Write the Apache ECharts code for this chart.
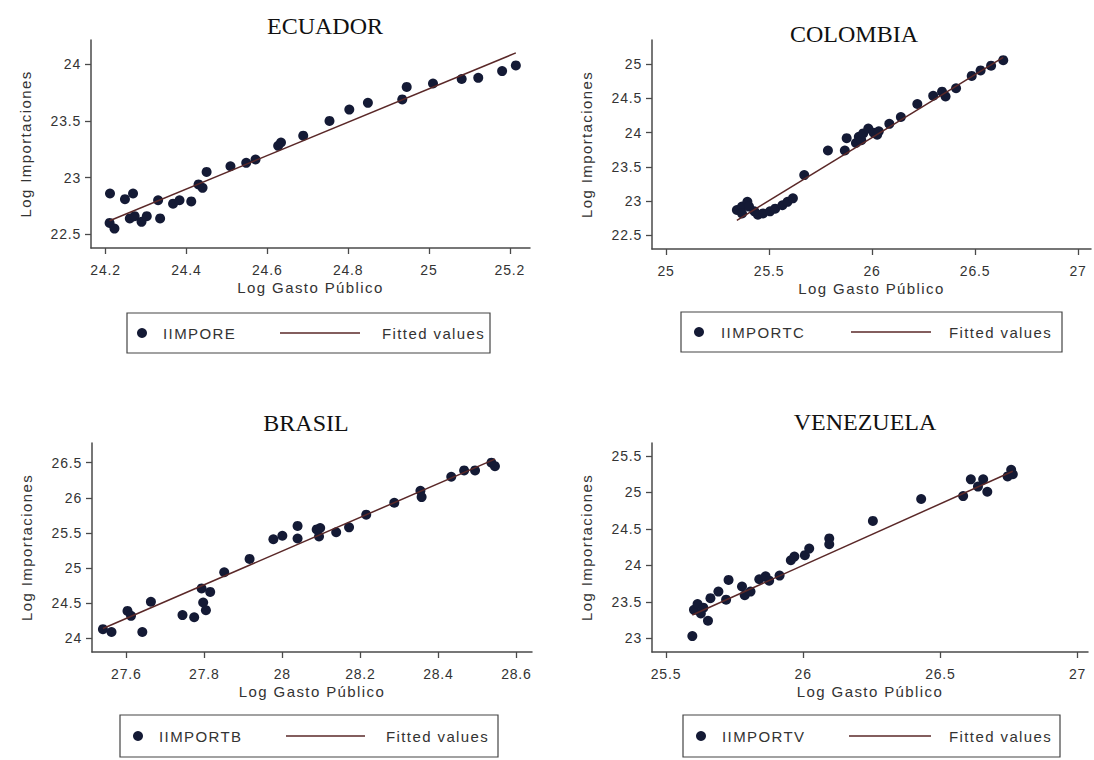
<!DOCTYPE html>
<html>
<head>
<meta charset="utf-8">
<script src="https://cdn.jsdelivr.net/npm/echarts@6/dist/echarts.min.js"></script>
<style>
html,body{margin:0;padding:0;background:#fff;}
#chart{width:1094px;height:760px;}
#chart text[style*="15px"]{letter-spacing:1.4px;}
#chart text[style*="14px"]{letter-spacing:0.8px;}
</style>
</head>
<body>
<div id="chart"></div>
<script>
// ---------- DATA ----------
const titles = ['ECUADOR', 'COLOMBIA', 'BRASIL', 'VENEZUELA'];
const scatterNames = ['IIMPORE', 'IIMPORTC', 'IIMPORTB', 'IIMPORTV'];
const fitName = 'Fitted values';
const xName = 'Log Gasto Público';
const yName = 'Log Importaciones';

// Ecuador
const ecuX = [24.211, 24.210, 24.222, 24.248, 24.268, 24.260, 24.272, 24.289, 24.302, 24.330, 24.335, 24.367, 24.383, 24.412, 24.430, 24.440, 24.450, 24.509, 24.548, 24.571, 24.627, 24.634, 24.689, 24.754, 24.803, 24.849, 24.934, 24.945, 25.010, 25.081, 25.122, 25.181, 25.215];
const ecuY = [22.86, 22.60, 22.55, 22.81, 22.86, 22.64, 22.66, 22.61, 22.66, 22.80, 22.64, 22.77, 22.80, 22.79, 22.94, 22.91, 23.05, 23.10, 23.13, 23.16, 23.28, 23.31, 23.37, 23.50, 23.60, 23.66, 23.69, 23.80, 23.83, 23.87, 23.88, 23.94, 23.99];
const ecuFitX = [24.21, 25.215];
const ecuFitY = [22.62, 24.10];
const ecuXTicks = [24.2, 24.4, 24.6, 24.8, 25, 25.2];
const ecuYTicks = [22.5, 23, 23.5, 24];

// Colombia
const colX = [25.344, 25.369, 25.369, 25.395, 25.403, 25.429, 25.446, 25.471, 25.505, 25.530, 25.565, 25.590, 25.616, 25.671, 25.786, 25.868, 25.877, 25.922, 25.936, 25.948, 25.957, 25.982, 26.008, 26.025, 26.033, 26.084, 26.140, 26.220, 26.297, 26.340, 26.357, 26.408, 26.484, 26.527, 26.578, 26.637];
const colY = [22.87, 22.92, 22.82, 22.99, 22.92, 22.85, 22.80, 22.82, 22.85, 22.89, 22.94, 22.99, 23.04, 23.38, 23.74, 23.74, 23.92, 23.85, 23.94, 23.89, 23.99, 24.06, 24.00, 23.97, 24.02, 24.13, 24.23, 24.42, 24.54, 24.60, 24.53, 24.65, 24.83, 24.91, 24.98, 25.06];
const colFitX = [25.344, 26.637];
const colFitY = [22.72, 25.10];
const colXTicks = [25, 25.5, 26, 26.5, 27];
const colYTicks = [22.5, 23, 23.5, 24, 24.5, 25];

// Brasil
const braX = [27.540, 27.562, 27.603, 27.612, 27.641, 27.663, 27.744, 27.774, 27.793, 27.797, 27.804, 27.815, 27.851, 27.916, 27.977, 28.000, 28.039, 28.039, 28.088, 28.094, 28.097, 28.138, 28.171, 28.215, 28.287, 28.354, 28.357, 28.433, 28.466, 28.494, 28.536, 28.545];
const braY = [24.13, 24.09, 24.39, 24.32, 24.09, 24.52, 24.33, 24.30, 24.71, 24.51, 24.40, 24.66, 24.94, 25.13, 25.41, 25.46, 25.60, 25.42, 25.55, 25.45, 25.57, 25.51, 25.58, 25.76, 25.93, 26.10, 26.01, 26.30, 26.39, 26.39, 26.50, 26.45];
const braFitX = [27.54, 28.545];
const braFitY = [24.14, 26.55];
const braXTicks = [27.6, 27.8, 28, 28.2, 28.4, 28.6];
const braYTicks = [24, 24.5, 25, 25.5, 26, 26.5];

// Venezuela
const venX = [25.596, 25.602, 25.615, 25.627, 25.636, 25.653, 25.662, 25.691, 25.719, 25.728, 25.777, 25.787, 25.808, 25.840, 25.863, 25.876, 25.914, 25.955, 25.968, 26.006, 26.022, 26.095, 26.095, 26.254, 26.430, 26.583, 26.611, 26.637, 26.656, 26.671, 26.745, 26.758, 26.764];
const venY = [23.03, 23.39, 23.47, 23.34, 23.42, 23.24, 23.55, 23.64, 23.53, 23.80, 23.71, 23.59, 23.64, 23.81, 23.85, 23.79, 23.86, 24.07, 24.12, 24.14, 24.23, 24.37, 24.29, 24.61, 24.91, 24.95, 25.18, 25.08, 25.18, 25.01, 25.22, 25.31, 25.25];
const venFitX = [25.596, 26.764];
const venFitY = [23.32, 25.29];
const venXTicks = [25.5, 26, 26.5, 27];
const venYTicks = [23, 23.5, 24, 24.5, 25, 25.5];

// ---------- LAYOUT / STYLE ----------
const panels = [
  {x: ecuX, y: ecuY, fx: ecuFitX, fy: ecuFitY, xt: ecuXTicks, yt: ecuYTicks,
   grid: {left: 91, top: 40, width: 439, height: 208}, xr: [24.164, 25.250], yr: [22.379, 24.214],
   title: {left: 325, top: 14},
   legA: {left: 127, top: 313, pad: [12, 237, 12, 10], tpad: 11},
   legB: {left: 280, top: 325, w: 80, tpad: 17}},
  {x: colX, y: colY, fx: colFitX, fy: colFitY, xt: colXTicks, yt: colYTicks,
   grid: {left: 652, top: 40, width: 439, height: 209}, xr: [24.932, 27.063], yr: [22.30, 25.355],
   title: {left: 854, top: 22},
   legA: {left: 681, top: 312, pad: [12, 251, 12, 13], tpad: 12},
   legB: {left: 851, top: 324, w: 80, tpad: 13}},
  {x: braX, y: braY, fx: braFitX, fy: braFitY, xt: braXTicks, yt: braYTicks,
   grid: {left: 92, top: 443, width: 440, height: 209}, xr: [27.512, 28.640], yr: [23.805, 26.78],
   title: {left: 306, top: 411},
   legA: {left: 120, top: 715, pad: [13, 249, 13, 13], tpad: 11},
   legB: {left: 286, top: 728, w: 79, tpad: 16}},
  {x: venX, y: venY, fx: venFitX, fy: venFitY, xt: venXTicks, yt: venYTicks,
   grid: {left: 652, top: 443, width: 436, height: 209}, xr: [25.449, 27.038], yr: [22.812, 25.678],
   title: {left: 865, top: 410},
   legA: {left: 683, top: 715, pad: [13, 248, 13, 13], tpad: 11},
   legB: {left: 849, top: 728, w: 82, tpad: 13}}
];

const SANS = '"Liberation Sans", Arial, sans-serif';
const SERIF = '"Liberation Serif", "Times New Roman", serif';
const axisColor = '#4a4a4a';
const dotColor = '#141a35';
const lineColor = '#5a2828';

const option = {
  backgroundColor: '#ffffff',
  animation: false,
  title: [], grid: [], xAxis: [], yAxis: [], series: [], legend: []
};

panels.forEach((p, i) => {
  option.title.push({
    text: titles[i], left: p.title.left, top: p.title.top, textAlign: 'center', padding: 0,
    textStyle: {fontFamily: SERIF, fontSize: 24, fontWeight: 'normal', color: '#111'}
  });
  option.grid.push(Object.assign({containLabel: false}, p.grid));
  option.xAxis.push({
    gridIndex: i, type: 'value', min: p.xr[0], max: p.xr[1],
    name: xName, nameLocation: 'middle', nameGap: 32,
    nameTextStyle: {fontFamily: SANS, fontSize: 15, color: '#333'},
    axisLine: {show: true, onZero: false, lineStyle: {color: axisColor, width: 1.5}},
    axisTick: {show: true, length: 6, customValues: p.xt, lineStyle: {color: axisColor, width: 1.3}},
    axisLabel: {customValues: p.xt, margin: 15, fontFamily: SANS, fontSize: 14, color: '#333'},
    splitLine: {show: false}
  });
  option.yAxis.push({
    gridIndex: i, type: 'value', min: p.yr[0], max: p.yr[1],
    name: yName, nameLocation: 'middle', nameGap: 58, nameRotate: 90,
    nameTextStyle: {fontFamily: SANS, fontSize: 15, color: '#333'},
    axisLine: {show: true, onZero: false, lineStyle: {color: axisColor, width: 1.5}},
    axisTick: {show: true, length: 6, customValues: p.yt, lineStyle: {color: axisColor, width: 1.3}},
    axisLabel: {customValues: p.yt, margin: 10, fontFamily: SANS, fontSize: 14, color: '#333'},
    splitLine: {show: false}
  });
  option.series.push({
    type: 'scatter', name: scatterNames[i], xAxisIndex: i, yAxisIndex: i,
    symbol: 'circle', symbolSize: 10,
    itemStyle: {color: dotColor, opacity: 1},
    data: p.x.map((v, k) => [v, p.y[k]]),
    z: 2
  });
  option.series.push({
    type: 'line', name: fitName, xAxisIndex: i, yAxisIndex: i,
    symbol: 'none', showSymbol: false,
    lineStyle: {color: lineColor, width: 1.5},
    itemStyle: {color: lineColor},
    data: p.fx.map((v, k) => [v, p.fy[k]]),
    z: 3
  });
  option.legend.push({
    data: [scatterNames[i]], left: p.legA.left, top: p.legA.top, padding: p.legA.pad,
    orient: 'horizontal', selectedMode: false,
    borderColor: '#444', borderWidth: 1.2, backgroundColor: '#fff',
    itemWidth: 10, itemHeight: 10,
    textStyle: {fontFamily: SANS, fontSize: 15, color: '#333', lineHeight: 16, width: 90,
                padding: [0, 0, 0, p.legA.tpad]}
  });
  option.legend.push({
    data: [{name: fitName, icon: 'rect', itemStyle: {color: lineColor}}],
    left: p.legB.left, top: p.legB.top, padding: 0,
    orient: 'horizontal', selectedMode: false, symbolKeepAspect: false,
    itemWidth: p.legB.w, itemHeight: 1.5, z: 5,
    textStyle: {fontFamily: SANS, fontSize: 15, color: '#333', lineHeight: 16,
                padding: [0, 0, 0, p.legB.tpad]}
  });
});

const chart = echarts.init(document.getElementById('chart'), null, {renderer: 'svg', width: 1094, height: 760});
chart.setOption(option);
</script>
</body>
</html>
